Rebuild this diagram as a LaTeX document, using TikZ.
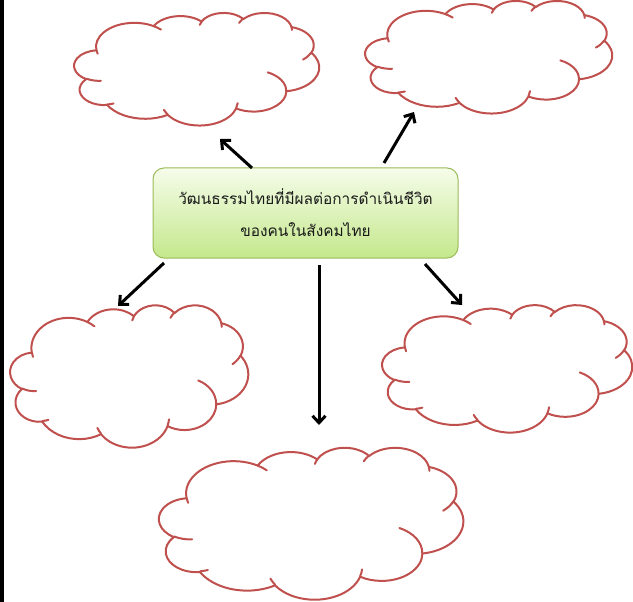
\documentclass[tikz,border=0pt]{standalone}
\usepackage{fontspec}
\newfontfamily\thaifont[Script=Thai]{Loma}
\usetikzlibrary{arrows.meta}
\definecolor{cloudred}{HTML}{C0504D}
\definecolor{boxedge}{HTML}{9BBB59}
\definecolor{boxtop}{RGB}{246,252,234}
\definecolor{boxbot}{RGB}{196,232,140}

% visual (DrawingML) angle -> parametric angle
\newcommand\mkang[5]{%
  \pgfmathsetmacro\tmpa{#4}%
  \pgfmathsetmacro\tmpb{#4+#5}%
  \pgfmathsetmacro\tmpda{atan2(#2*sin(\tmpa),#3*cos(\tmpa))-\tmpa}%
  \pgfmathsetmacro\tmpdb{atan2(#2*sin(\tmpb),#3*cos(\tmpb))-\tmpb}%
  \pgfmathsetmacro\tmpsa{\tmpa+\tmpda-360*round(\tmpda/360)}%
  \pgfmathsetmacro\tmpsb{\tmpb+\tmpdb-360*round(\tmpdb/360)}%
  \expandafter\xdef\csname ang#1s\endcsname{\tmpsa}%
  \expandafter\xdef\csname ang#1e\endcsname{\tmpsb}%
}
\mkang{A}{0.6753}{0.9190}{-190.4875}{123.7805}
\mkang{B}{0.5333}{0.7267}{-144.1024}{89.9452}
\mkang{C}{0.4365}{0.5945}{-145.8079}{99.7230}
\mkang{D}{0.4857}{0.6595}{-130.9861}{117.2417}
\mkang{E}{0.5333}{0.7273}{-78.7089}{109.0269}
\mkang{F}{0.6775}{0.9220}{-46.2673}{130.2690}
\mkang{G}{0.5785}{0.7867}{0.6250}{114.0333}
\mkang{H}{0.6752}{0.9215}{22.4516}{115.1726}
\mkang{I}{0.7720}{1.0543}{66.2426}{75.7110}
\mkang{J}{0.4360}{0.5918}{-274.9421}{146.7356}
\mkang{K}{0.4345}{0.5945}{-246.8285}{152.5189}
\mkang{a}{0.4345}{0.5945}{86.7420}{26.4295}
\mkang{b}{0.4360}{0.5918}{73.6105}{11.4475}
\mkang{c}{0.6752}{0.9215}{137.6242}{14.0811}
\mkang{d}{0.6752}{0.9215}{6.4533}{15.9984}
\mkang{e}{0.5785}{0.7867}{-70.2924}{70.9174}
\mkang{f}{0.5333}{0.7273}{30.3180}{27.7515}
\mkang{g}{0.4857}{0.6595}{-13.7443}{14.8589}
\mkang{h}{0.4857}{0.6595}{-149.1815}{18.1954}
\mkang{i}{0.4365}{0.5945}{-163.4943}{17.6864}
\mkang{j}{0.6753}{0.9190}{-66.7070}{12.3194}
\mkang{k}{0.6753}{0.9190}{157.6544}{11.8582}

\newcommand\carc[3]{arc[start angle=\csname ang#1s\endcsname,end angle=\csname ang#1e\endcsname,x radius=#2,y radius=#3]}

\tikzset{
  cloudline/.style={draw=cloudred,line width=2pt,line join=round,line cap=round},
  arr/.style={line width=3pt,-{Straight Barb[length=7pt,width=13pt]}},
  mainbox/.style={draw=boxedge,line width=1pt,rounded corners=11pt,
    top color=boxtop,bottom color=boxbot,minimum width=305pt,minimum height=90pt,
    align=center,text=black!90,font=\thaifont\fontsize{15.4}{32}\selectfont,inner sep=0pt}
}

% L T R B (pixels, y down)
\newcommand\cloudshape[4]{%
  \pgfmathsetmacro\cw{(#3-#1)/4.3030}%
  \pgfmathsetmacro\ch{(#4-#2)/4.0684}%
  \begin{scope}[shift={(#1,#2)},x=\cw pt,y=-\ch pt,shift={(-0.0134,-0.2470)}]
    \draw[cloudline,fill=white] (0.39,1.437)
      \carc{A}{0.6753}{0.9190}
      \carc{B}{0.5333}{0.7267}
      \carc{C}{0.4365}{0.5945}
      \carc{D}{0.4857}{0.6595}
      \carc{E}{0.5333}{0.7273}
      \carc{F}{0.6775}{0.9220}
      \carc{G}{0.5785}{0.7867}
      \carc{H}{0.6752}{0.9215}
      \carc{I}{0.7720}{1.0543}
      \carc{J}{0.4360}{0.5918}
      \carc{K}{0.4345}{0.5945}
      -- cycle;
    \draw[cloudline]
      (0.4693,2.6177) \carc{a}{0.4345}{0.5945}
      (0.6928,3.4899) \carc{b}{0.4360}{0.5918}
      (1.6478,3.9090) \carc{c}{0.6752}{0.9215}
      (2.8827,3.4751) \carc{d}{0.6752}{0.9215}
      (3.4129,2.2954) \carc{e}{0.5785}{0.7867}
      (4.1798,1.5354) \carc{f}{0.5333}{0.7273}
      (3.8324,0.5426) \carc{g}{0.4857}{0.6595}
      (2.9078,0.3952) \carc{h}{0.4857}{0.6595}
      (2.2141,0.4720) \carc{i}{0.4365}{0.5945}
      (1.4000,0.5192) \carc{j}{0.6753}{0.9190}
      (0.4127,1.5789) \carc{k}{0.6753}{0.9190};
  \end{scope}}

\begin{document}
\begin{tikzpicture}[x=1pt,y=-1pt]
  \useasboundingbox (0,0) rectangle (633,602);
  \fill[white] (0,0) rectangle (633,602);
  \fill[black] (0,0) rectangle (4,602);

  \cloudshape{75}{19}{319}{125}
  \cloudshape{366}{7}{612}{113}
  \cloudshape{11}{313}{248}{447}
  \cloudshape{383}{312}{632}{432}
  \cloudshape{160}{456}{463}{599}

  \node[mainbox] (main) at (305.5,213) {วัฒนธรรมไทยที่มีผลต่อการดำเนินชีวิต\\ของคนในสังคมไทย};

  \coordinate (s1) at (252,168);  \coordinate (t1) at (220,139);
  \coordinate (s2) at (384,163);  \coordinate (t2) at (414,112);
  \coordinate (s3) at (164,263);  \coordinate (t3) at (118,306);
  \coordinate (s4) at (425,264);  \coordinate (t4) at (462,305);
  \coordinate (s5) at (319,265);  \coordinate (t5) at (319,425);

  \draw[arr] (s1) -- (t1);
  \draw[arr] (s2) -- (t2);
  \draw[arr] (s3) -- (t3);
  \draw[arr] (s4) -- (t4);
  \draw[arr] (s5) -- (t5);
\end{tikzpicture}
\end{document}
